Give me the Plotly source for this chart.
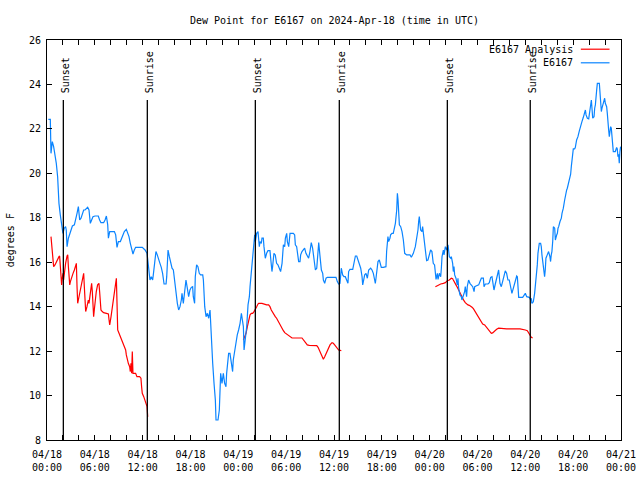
import pandas as pd
import plotly.graph_objects as go

# ---- data (minutes since 2024-04-18 00:00 UTC, dew point in °F) ----
blue_min = [10, 25, 30, 40, 50, 60, 70, 80, 90, 100, 110, 120, 130, 140, 145, 151, 161, 171, 181, 191,
            206, 216, 226, 236, 246, 256, 266, 276, 286, 296, 306, 316, 326, 336, 346, 361, 386, 396, 406, 426,
            437, 447, 457, 462, 472, 507, 517, 527, 537, 552, 567, 582, 597, 607, 617, 627, 637, 647, 657, 667,
            717, 738, 753,
            765, 775, 785, 795, 800, 810, 820, 830, 840, 850, 860, 870, 881, 896, 901, 906, 911, 921, 931, 941,
            951, 961, 971, 981, 991, 1001, 1011, 1016, 1026, 1036, 1046, 1056, 1066, 1076, 1086, 1096, 1101, 1111,
            1116, 1126, 1136, 1146, 1156, 1172, 1177, 1187, 1197, 1207, 1217, 1227, 1237, 1247, 1257, 1267, 1272,
            1287, 1297, 1302, 1307, 1317, 1327, 1337, 1347, 1352, 1362, 1367, 1377, 1387, 1397, 1402, 1412, 1422,
            1432, 1442, 1453, 1463, 1468, 1478, 1483, 1493, 1503, 1513, 1523, 1528, 1538, 1548, 1558, 1563, 1568,
            1578, 1588,
            1598, 1603, 1613, 1618, 1628, 1633, 1643, 1653, 1663, 1678, 1683, 1693, 1698, 1708, 1718, 1728, 1738,
            1748, 1758, 1769, 1774, 1779, 1789, 1794, 1804, 1809, 1819, 1824, 1829, 1854, 1864, 1869, 1879, 1889,
            1894, 1904, 1909, 1919, 1929, 1939, 1949, 1959, 1969, 1979, 1984, 1989, 1999, 2009, 2020, 2030, 2035,
            2040, 2045, 2055, 2065, 2075, 2080, 2090, 2100, 2110, 2175, 2185, 2195, 2205, 2210, 2215, 2225, 2235,
            2245, 2255, 2265, 2270, 2280,
            2301, 2311, 2321, 2331, 2341, 2351, 2361, 2371, 2376, 2381, 2391, 2401, 2406, 2411, 2421, 2436, 2446,
            2456, 2466, 2471, 2476, 2481, 2491, 2501, 2506, 2516, 2531, 2551, 2556, 2561, 2566, 2571, 2576, 2581,
            2586, 2596, 2606, 2616, 2622, 2632, 2637, 2642, 2647, 2652, 2662, 2672, 2682, 2692, 2707, 2732, 2742,
            2757, 2772, 2782, 2792, 2797, 2802, 2812, 2822, 2827, 2837, 2847, 2857, 2867, 2877, 2887, 2897, 2907,
            2917, 2923, 2928, 2938, 2943, 2953, 2963, 2968, 2973, 2983, 2988, 2998, 3008, 3018, 3023, 3028,
            3038, 3043, 3053, 3058, 3063, 3068, 3078, 3088, 3093, 3098, 3108, 3118, 3123, 3133, 3143, 3148, 3158,
            3163, 3173, 3183, 3194, 3204, 3214, 3219, 3229, 3249, 3259, 3269, 3284, 3289, 3299, 3319, 3329, 3339,
            3349, 3354, 3359, 3364, 3374, 3384, 3394, 3399, 3409, 3419, 3429, 3439, 3449, 3459, 3469, 3479, 3489,
            3494, 3499, 3509, 3520, 3525, 3535, 3540, 3545, 3550, 3580, 3590, 3600, 3610, 3630, 3640,
            3645, 3650, 3660, 3670, 3680, 3685, 3690, 3695, 3705, 3715, 3720, 3725, 3730, 3740, 3745, 3750, 3755,
            3765, 3775, 3785, 3790, 3795, 3800, 3806, 3811, 3821, 3826, 3836, 3841, 3846, 3851, 3861, 3871, 3876,
            3886, 3896, 3906, 3911, 3916, 3926, 3936, 3941, 3946, 3956, 3961, 3971, 3976, 3986, 3996, 4006, 4016,
            4026, 4036, 4047, 4052, 4057, 4067, 4077, 4087, 4092, 4097, 4107, 4117, 4122, 4127, 4137, 4142, 4157,
            4162, 4167, 4172, 4177, 4182, 4192, 4197, 4202, 4212, 4217, 4222, 4227, 4232, 4237, 4242, 4247, 4252,
            4257, 4262, 4277, 4287, 4292, 4297, 4302, 4307, 4312, 4317]
blue_val = [22.43, 22.43, 20.90, 21.43, 21.20, 20.90, 20.45, 19.85, 18.65, 18.13, 17.60, 17.30, 17.53, 17.60, 17.45, 16.70, 17.08, 17.30, 17.53, 17.63,
            17.68, 17.90, 18.20, 18.50, 17.90, 17.98, 18.20, 18.35, 18.35, 18.43, 18.47, 18.35, 17.75, 17.90, 18.05, 18.08, 18.08, 17.90, 17.78, 17.78,
            17.90, 18.08, 17.68, 17.08, 17.38, 17.38, 17.23, 16.67, 16.93, 16.93, 17.18, 17.38, 17.48, 17.30, 17.15, 16.85, 16.55, 16.37, 16.55, 16.67,
            16.67, 16.55, 16.40,
            15.80, 15.20, 15.35, 15.20, 15.43, 15.95, 16.48, 16.33, 16.18, 15.95, 15.77, 15.50, 15.02, 15.02, 15.35, 16.10, 16.55, 16.25, 15.95, 15.73,
            15.65, 15.05, 14.53, 14.15, 13.85, 14.00, 14.30, 14.60, 14.15, 14.75, 15.20, 14.83, 14.45, 14.75, 14.87, 14.90, 14.45, 14.15,
            15.35, 15.88, 15.80, 15.50, 15.43, 15.43, 15.20, 14.00, 13.55, 13.70, 13.48, 13.85, 12.35, 11.45, 10.55, 9.80, 8.90,
            8.90, 9.35, 10.40, 11.00, 10.55, 11.00, 10.55, 10.40, 11.00, 11.45, 11.90, 11.90, 11.45, 11.08, 11.60, 12.05, 12.50,
            12.73, 12.95, 13.25, 13.70, 13.40, 13.10, 12.05, 12.65, 13.10, 14.08, 14.45, 14.90, 15.50, 16.25, 16.93, 17.23, 16.93,
            17.30, 17.38,
            16.70, 16.93, 16.85, 17.08, 17.08, 16.70, 16.18, 16.40, 16.52, 16.52, 16.10, 15.58, 15.80, 16.40, 16.33, 15.95, 15.88,
            15.73, 15.58, 15.95, 16.55, 16.78, 16.70, 17.08, 17.30, 16.93, 16.70, 17.08, 17.30, 17.30, 17.23, 16.78, 16.70, 16.25,
            16.03, 16.03, 16.33, 16.48, 16.55, 16.63, 16.40, 16.25, 16.18, 16.48, 16.78, 16.88, 16.63, 16.25, 15.65, 15.73, 16.25,
            16.70, 16.88, 16.25, 15.65, 15.50, 15.20, 15.05, 15.28, 15.32, 15.32, 15.13, 15.02, 15.05, 15.58, 15.73, 15.43, 15.35,
            15.35, 15.20, 15.05, 15.58, 15.68,
            15.68, 15.95, 16.28, 16.28, 16.10, 15.88, 15.73, 15.35, 14.98, 15.13, 15.43, 15.50, 15.35, 15.28, 15.65, 15.73, 15.65,
            15.50, 15.20, 15.05, 15.28, 15.65, 16.03, 16.10, 15.95, 15.77, 15.77, 15.80, 16.48, 16.93, 17.15, 16.93, 17.00, 17.08,
            17.23, 17.30, 17.30, 17.53, 17.75, 18.35, 19.10, 18.80, 18.35, 17.68, 17.60, 17.38, 17.00, 16.40, 16.33, 16.33, 16.22,
            16.40, 16.70, 17.00, 17.45, 17.83, 18.05, 17.45, 17.38, 17.60, 17.08, 16.55, 16.07, 16.10, 16.33, 16.55, 16.48, 15.95,
            15.88, 15.50, 15.23, 15.50, 15.23, 15.50, 15.35, 15.73, 16.25, 16.55, 16.33, 16.70, 16.55, 16.78, 16.55, 16.25,
            16.18, 16.25, 15.95, 15.58, 15.80, 15.43, 15.28, 14.98, 15.28, 14.83, 14.53, 14.45, 14.30, 14.45, 14.68, 14.90, 14.45,
            14.90, 15.20, 15.05, 14.98, 14.90, 14.68, 14.90, 14.93, 14.98, 15.13, 15.28, 15.28, 14.90, 15.02, 15.02, 15.08, 15.32,
            15.35, 15.13, 14.90, 14.75, 15.02, 15.28, 15.43, 15.65, 15.05, 14.90, 15.13, 15.43, 15.61, 15.50, 15.20, 15.20, 14.98,
            14.75, 14.60, 14.83, 14.98, 15.20, 15.38, 15.35, 14.90, 14.42, 14.42, 14.53, 14.60, 14.45, 14.42, 14.30,
            14.38, 14.15, 14.22, 14.60, 15.13, 15.50, 15.88, 16.40, 16.85, 16.85, 16.70, 16.33, 16.10, 15.72, 15.35, 15.65, 16.18,
            16.33, 16.48, 16.25, 16.03, 16.33, 16.48, 16.93, 17.60, 17.53, 17.00, 17.23, 17.30, 17.53, 17.60, 17.83, 17.98, 18.20,
            18.43, 18.80, 19.18, 19.25, 19.33, 19.63, 19.85, 19.96, 20.30, 20.83, 21.10, 21.10, 21.16, 21.50, 21.65, 21.90, 22.18,
            22.33, 22.51, 22.78, 22.85, 22.63, 22.48, 22.45, 22.93, 23.08, 23.30, 22.48, 22.55, 22.93, 23.08, 23.75, 24.05, 24.05,
            23.68, 23.00, 22.78, 22.93, 23.08, 23.30, 23.38, 23.15, 23.00, 22.70, 22.03, 21.95, 21.65, 21.80, 22.10, 22.03, 21.50,
            21.28, 20.98, 20.98, 21.16, 21.10, 20.75, 20.86, 20.45, 20.98, 21.20]

red1_min = [30, 35, 40, 50, 60, 70, 80, 90, 95, 100, 105, 110, 115, 120, 125, 130, 140, 151, 156, 161, 166, 171, 176,
            186, 196, 206, 216, 221, 226, 231, 236, 246, 256, 266, 271, 276, 281, 286, 291, 301, 311, 316, 326, 336,
            341, 346, 351, 356, 361, 371, 381, 391, 396, 406, 416, 426, 447, 462, 467, 472, 482, 492, 502, 507, 512,
            517, 522, 527, 532, 542, 552, 562, 572, 582, 592, 597, 602, 612, 622, 627, 632, 637, 642, 647, 667, 677,
            697, 707, 712, 717, 728, 738, 743, 753, 758]
red1_val = [17.15, 16.70, 16.25, 15.80, 15.88, 16.03, 16.10, 16.25, 16.28, 15.65, 15.35, 14.98, 15.28, 15.50, 15.20, 15.53,
            15.95, 16.28, 16.33, 15.80, 15.20, 14.98, 15.13, 15.35, 15.50, 15.65, 15.88, 15.95, 14.90, 14.15, 14.30, 14.60,
            14.90, 15.20, 15.43, 15.50, 14.90, 14.23, 13.78, 14.00, 14.30, 14.15, 14.60, 15.05, 14.68, 14.15, 13.55, 13.85,
            14.15, 14.68, 14.98, 15.05, 14.68, 13.85, 13.78, 13.73, 13.70, 13.67, 13.40, 13.18, 13.55, 14.00, 14.45, 14.75,
            15.05, 15.20, 15.28, 14.15, 12.95, 12.80, 12.65, 12.50, 12.35, 12.28, 12.05, 11.83, 11.68, 11.45, 11.30, 11.08,
            11.45, 11.00, 11.98, 11.00, 11.00, 10.85, 10.85, 10.78, 10.40, 10.10, 9.95, 9.80, 9.68, 9.50, 9.05]

red2_min = [1478, 1488, 1498, 1508, 1518, 1528, 1538, 1548, 1558, 1568, 1578, 1588, 1593, 1618, 1628, 1638, 1653, 1668,
            1678, 1688, 1698, 1708, 1718, 1728, 1738, 1748, 1758, 1769, 1779, 1789, 1804, 1819, 1829, 1844, 1919, 1929,
            1944, 1959, 1974, 2030, 2040, 2050, 2060, 2070, 2080, 2090, 2100, 2110, 2120, 2130, 2145, 2155, 2165, 2175,
            2185, 2195, 2215]
red2_val = [12.50, 12.65, 12.80, 13.10, 13.40, 13.63, 13.70, 13.70, 13.78, 13.93, 14.00, 14.12, 14.15, 14.15, 14.12, 14.10,
            14.08, 14.08, 14.00, 13.85, 13.73, 13.63, 13.55, 13.48, 13.37, 13.25, 13.10, 13.03, 12.92, 12.83, 12.77, 12.73,
            12.65, 12.59, 12.59, 12.50, 12.40, 12.28, 12.26, 12.25, 12.17, 12.05, 11.90, 11.75, 11.63, 11.75, 11.90, 12.05,
            12.20, 12.28, 12.38, 12.35, 12.28, 12.20, 12.13, 12.05, 12.02]

red3_min = [2923, 2933, 2948, 2963, 2983, 2998, 3013, 3028, 3043, 3053, 3058, 3063, 3068, 3078, 3088, 3098, 3108, 3118,
            3128, 3138, 3148, 3158, 3168, 3178, 3189, 3199, 3209, 3219, 3229, 3239, 3249, 3259, 3269, 3279, 3294, 3304,
            3314, 3324, 3334, 3344, 3354, 3364, 3374, 3384, 3399, 3459, 3560, 3585, 3600, 3615, 3625, 3635, 3645, 3655]
red3_val = [14.90, 14.93, 14.99, 15.02, 15.05, 15.08, 15.17, 15.20, 15.28, 15.26, 15.20, 15.13, 15.05, 14.98, 14.87, 14.75,
            14.60, 14.45, 14.33, 14.27, 14.18, 14.12, 14.08, 14.06, 14.03, 13.97, 13.91, 13.82, 13.70, 13.63, 13.55, 13.43,
            13.33, 13.22, 13.18, 13.10, 13.03, 12.95, 12.86, 12.80, 12.82, 12.88, 12.92, 12.98, 13.03, 13.00, 13.00, 12.98,
            12.95, 12.92, 12.80, 12.68, 12.62, 12.59]

sun_labels = ["Sunset", "Sunrise", "Sunset", "Sunrise", "Sunset", "Sunrise"]
sun_times = ["2024-04-18 02:03", "2024-04-18 12:35", "2024-04-19 02:08",
             "2024-04-19 12:40", "2024-04-20 02:13", "2024-04-20 12:37"]

series_names = ["E6167 Analysis", "E6167"]
series_colors = ["#ff0000", "#0a84ff"]

# ---- build ----
base = pd.Timestamp("2024-04-18 00:00")


def to_time(mins):
    return list(base + pd.to_timedelta(mins, unit="min"))


red_x = to_time(red1_min) + [None] + to_time(red2_min) + [None] + to_time(red3_min)
red_y = red1_val + [None] + red2_val + [None] + red3_val

FONT = "DejaVu Sans Mono"
fig = go.Figure()
fig.add_trace(go.Scatter(x=red_x, y=red_y, mode="lines", name=series_names[0],
                         line=dict(color=series_colors[0], width=1.2), connectgaps=False))
fig.add_trace(go.Scatter(x=to_time(blue_min), y=blue_val, mode="lines", name=series_names[1],
                         line=dict(color=series_colors[1], width=1.2)))

for lab, t in zip(sun_labels, sun_times):
    fig.add_shape(type="line", xref="x", yref="paper", x0=t, x1=t, y0=0, y1=0.85,
                  line=dict(color="black", width=1.3))
    fig.add_annotation(x=t, xref="x", yref="paper", y=0.87, yshift=-3, text=lab, textangle=-90,
                       showarrow=False, xanchor="center", yanchor="bottom", xshift=2,
                       font=dict(family=FONT, size=10, color="black"))

# custom gnuplot-like legend (text, then sample line)
for i, (nm, col) in enumerate(zip(series_names, series_colors)):
    yy = 0.977 - i * 0.034
    fig.add_annotation(x=0.919, y=yy, xref="paper", yref="paper", text=nm, showarrow=False,
                       xanchor="right", yanchor="middle", font=dict(family=FONT, size=10, color="black"))
    fig.add_shape(type="line", xref="paper", yref="paper", x0=0.930, x1=0.980, y0=yy, y1=yy,
                  line=dict(color=col, width=1.2))

fig.add_annotation(x=0.5, y=1.0, xref="paper", yref="paper", yshift=20, text="Dew Point for E6167 on 2024-Apr-18 (time in UTC)",
                   showarrow=False, xanchor="center", yanchor="middle", font=dict(family=FONT, size=10, color="black"))
fig.add_annotation(x=-0.064, y=0.5, xref="paper", yref="paper", text="degrees F", textangle=-90,
                   showarrow=False, xanchor="center", yanchor="middle", font=dict(family=FONT, size=10, color="black"))

fig.update_layout(
    width=640, height=480,
    margin=dict(l=47, r=19, t=40, b=40, autoexpand=False),
    paper_bgcolor="white", plot_bgcolor="white",
    showlegend=False,
    font=dict(family=FONT, size=10, color="black"),
)
fig.update_xaxes(
    range=["2024-04-18 00:00", "2024-04-21 00:00"], automargin=False,
    dtick=6 * 3600 * 1000, tick0="2024-04-18 00:00", tickformat="%m/%d<br>%H:%M",
    ticks="inside", ticklen=5, tickcolor="black", mirror="ticks", ticklabelstandoff=5,
    minor=dict(dtick=2 * 3600 * 1000, ticks="inside", ticklen=5, tickcolor="black"),
    showline=True, linecolor="black", linewidth=1, showgrid=False, zeroline=False,
    tickfont=dict(family=FONT, size=10),
)
fig.update_yaxes(
    range=[8, 26], dtick=2, ticks="inside", ticklen=5, tickcolor="black", mirror="ticks",
    automargin=False, ticklabelstandoff=3,
    showline=True, linecolor="black", linewidth=1, showgrid=False, zeroline=False,
    tickfont=dict(family=FONT, size=10),
)
# remove the default page margin so the 640x480 figure fills the window exactly
fig.write_html("out.html", config={"displayModeBar": False},
               post_script="document.body.style.margin='0';")
